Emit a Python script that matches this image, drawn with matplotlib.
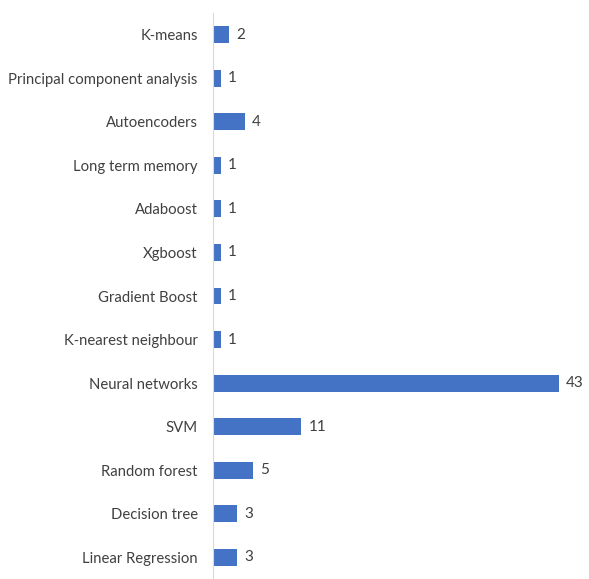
import matplotlib
matplotlib.use("Agg")
import matplotlib.pyplot as plt

# Data (bottom to top as drawn)
methods = ["Linear Regression", "Decision tree", "Random forest", "SVM",
           "Neural networks", "K-nearest neighbour", "Gradient Boost",
           "Xgboost", "Adaboost", "Long term memory", "Autoencoders",
           "Principal component analysis", "K-means"]
counts = [3, 3, 5, 11, 43, 1, 1, 1, 1, 1, 4, 1, 2]

plt.rcParams['font.family'] = ['Lato', 'DejaVu Sans']

fig = plt.figure(figsize=(5.89, 5.79), dpi=100)
ax = fig.add_axes([213 / 589, 0.0, 370 / 589, 566 / 579])

bars = ax.barh(range(len(methods)), counts, height=0.39, color='#4472C4')
ax.bar_label(bars, padding=5, fontsize=11, color='#404040')

ax.set_yticks(range(len(methods)))
ax.set_yticklabels(methods, fontsize=10.7, color='#404040')
ax.set_ylim(-0.5, len(methods) - 0.5)
ax.set_xlim(0, 46)
ax.set_xticks([])
ax.tick_params(axis='y', length=0, pad=11)

for side in ['top', 'right', 'bottom']:
    ax.spines[side].set_visible(False)
ax.spines['left'].set_color('#d9d9d9')

fig.savefig("out.png", dpi=100)
